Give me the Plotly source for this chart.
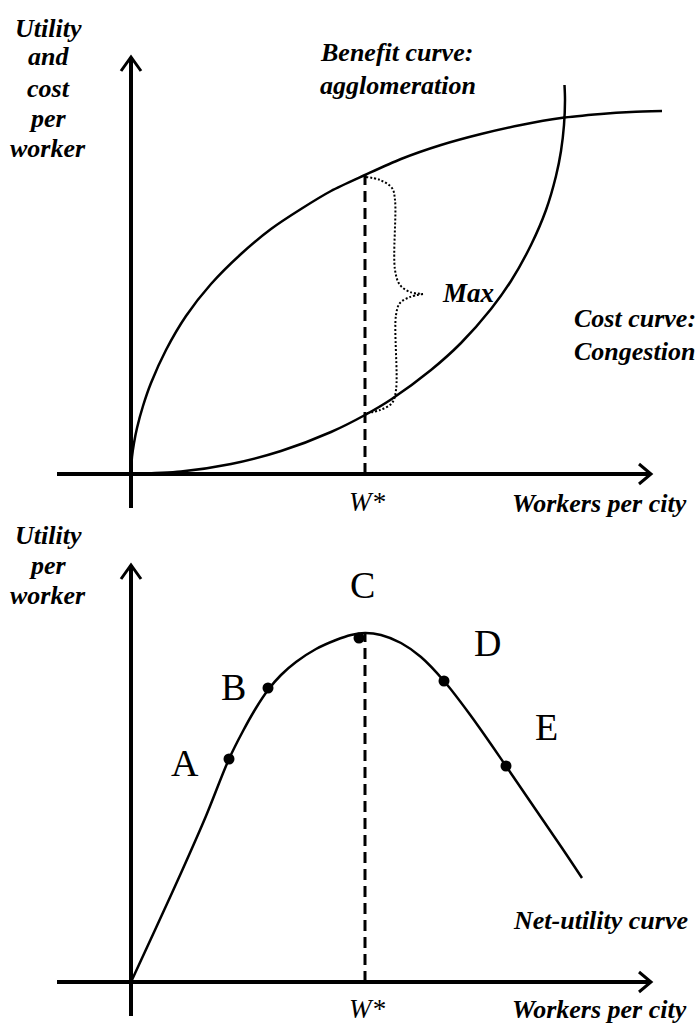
import plotly.graph_objects as go

# ---------------- data (units: pixels from each panel's origin) ----------------
W_STAR = 234

BENEFIT_X = [0, 1, 3, 6, 12, 20, 35, 55, 80, 110, 140, 170, 200, 234, 270, 310, 350, 390, 430, 470, 500, 531]
BENEFIT_Y = [0, 17, 31, 46, 68, 91, 124, 158, 190, 220, 245, 265, 283, 299, 315, 329, 340, 349, 356, 360, 362, 363]

COST_X = [0, 50, 100, 150, 200, 234, 260, 300, 330, 360, 380, 400, 415, 425, 430, 433, 434, 433.5]
COST_Y = [0, 2.5, 10, 23, 42, 59, 74.5, 104, 131, 165, 193, 229, 264, 298, 323, 349, 374, 389]

BRACE_UP_X = [235, 249, 261, 264, 264, 269, 279, 292]
BRACE_UP_Y = [297, 294, 286, 274, 204, 189, 182, 180]
BRACE_LO_X = [292, 279, 269, 265, 265, 261, 249, 236]
BRACE_LO_Y = [180, 177, 171, 159, 84, 71, 64, 61]

NET_X = [0, 24, 50, 75, 98, 112, 125, 137, 150, 165, 185, 205, 220, 234, 250, 270, 290, 313, 340, 375, 405, 431, 451]
NET_Y = [0, 52, 109, 166, 223, 251, 274, 292, 307, 320, 333, 342, 347, 349, 347, 339, 325, 301, 266, 216, 172, 134, 104]

POINT_LABELS = ["A", "B", "C", "D", "E"]
POINT_X = [98, 137, 228, 313, 375]
POINT_Y = [223, 294, 344, 301, 216]
LABEL_X = [54, 102, 231, 356, 415]
LABEL_Y = [219, 295, 397, 339, 255]

TOP_YLABEL = ["Utility", "and", "cost", "per", "worker"]
TOP_YLABEL_Y = [446, 418, 386, 356, 326]
BOT_YLABEL = ["Utility", "per", "worker"]
BOT_YLABEL_Y = [447, 417, 387]

AXIS_X = [-74, 520]
AXIS_Y = [-34, 417]
ARROW = 12
ARROW_W = 10

SERIF = "Liberation Serif"

fig = go.Figure()


def add_axes(xa, ya):
    fig.add_trace(go.Scatter(x=AXIS_X, y=[0, 0], mode="lines", xaxis=xa, yaxis=ya,
                             line=dict(color="black", width=4), hoverinfo="skip"))
    fig.add_trace(go.Scatter(x=[0, 0], y=AXIS_Y, mode="lines", xaxis=xa, yaxis=ya,
                             line=dict(color="black", width=4), hoverinfo="skip"))
    fig.add_trace(go.Scatter(x=[AXIS_X[1] - ARROW, AXIS_X[1], AXIS_X[1] - ARROW],
                             y=[ARROW_W, 0, -ARROW_W], mode="lines", xaxis=xa, yaxis=ya,
                             line=dict(color="black", width=3), hoverinfo="skip"))
    fig.add_trace(go.Scatter(x=[-ARROW_W, 0, ARROW_W],
                             y=[AXIS_Y[1] - ARROW - 2, AXIS_Y[1], AXIS_Y[1] - ARROW - 2], mode="lines",
                             xaxis=xa, yaxis=ya, line=dict(color="black", width=3), hoverinfo="skip"))


# ---------------- top panel ----------------
add_axes("x", "y")
fig.add_trace(go.Scatter(x=BENEFIT_X, y=BENEFIT_Y, mode="lines", xaxis="x", yaxis="y",
                         line=dict(color="black", width=2.5, shape="spline", smoothing=0.8)))
fig.add_trace(go.Scatter(x=COST_X, y=COST_Y, mode="lines", xaxis="x", yaxis="y",
                         line=dict(color="black", width=2.5, shape="spline", smoothing=0.8)))
fig.add_trace(go.Scatter(x=[W_STAR, W_STAR], y=[0, BENEFIT_Y[BENEFIT_X.index(W_STAR)]], mode="lines",
                         xaxis="x", yaxis="y", line=dict(color="black", width=3, dash="11px,6px")))
fig.add_trace(go.Scatter(x=BRACE_UP_X, y=BRACE_UP_Y, mode="lines", xaxis="x", yaxis="y",
                         line=dict(color="black", width=2, dash="2px,2px", shape="spline", smoothing=1)))
fig.add_trace(go.Scatter(x=BRACE_LO_X, y=BRACE_LO_Y, mode="lines", xaxis="x", yaxis="y",
                         line=dict(color="black", width=2, dash="2px,2px", shape="spline", smoothing=1)))

# ---------------- bottom panel ----------------
add_axes("x2", "y2")
fig.add_trace(go.Scatter(x=NET_X, y=NET_Y, mode="lines", xaxis="x2", yaxis="y2",
                         line=dict(color="black", width=2.5, shape="spline", smoothing=1)))
fig.add_trace(go.Scatter(x=[W_STAR, W_STAR], y=[0, max(NET_Y)], mode="lines", xaxis="x2", yaxis="y2",
                         line=dict(color="black", width=3, dash="11px,6px")))
fig.add_trace(go.Scatter(x=POINT_X, y=POINT_Y, mode="markers", xaxis="x2", yaxis="y2",
                         marker=dict(color="black", size=11)))

bi = dict(family=SERIF, size=26, color="black", weight="bold", style="italic")
it = dict(family=SERIF, size=27, color="black", style="italic")


def label(x, y, text, xr, yr, font, xanchor="center"):
    return dict(x=x, y=y, xref=xr, yref=yr, text=text, showarrow=False, font=font,
                xanchor=xanchor, yanchor="middle", align="left")


ann = []
for t, yy in zip(TOP_YLABEL, TOP_YLABEL_Y):
    ann.append(label(-83, yy, t, "x", "y", bi))
ann.append(label(187, 422, "Benefit curve:", "x", "y", bi, "left"))
ann.append(label(187, 389, "agglomeration", "x", "y", bi, "left"))
ann.append(label(309, 181, "Max", "x", "y",
                 dict(family=SERIF, size=27, color="black", style="italic", weight="bold"), "left"))
ann.append(label(441, 156, "Cost curve:", "x", "y", bi, "left"))
ann.append(label(441, 123, "Congestion", "x", "y", bi, "left"))
ann.append(label(236, -28, "W*", "x", "y", it))
ann.append(label(558, -29, "Workers per city", "x", "y", bi, "right"))

for t, yy in zip(BOT_YLABEL, BOT_YLABEL_Y):
    ann.append(label(-83, yy, t, "x2", "y2", bi))
ann.append(label(559, 62, "Net-utility curve", "x2", "y2", bi, "right"))
ann.append(label(236, -27, "W*", "x2", "y2", it))
ann.append(label(558, -27, "Workers per city", "x2", "y2", bi, "right"))
for lab, lx, ly in zip(POINT_LABELS, LABEL_X, LABEL_Y):
    ann.append(label(lx, ly, lab, "x2", "y2", dict(family=SERIF, size=38, color="black")))

ax_common = dict(visible=False, fixedrange=True)
fig.update_layout(
    width=695, height=1027,
    margin=dict(l=0, r=0, t=0, b=0),
    paper_bgcolor="white", plot_bgcolor="white",
    showlegend=False,
    xaxis=dict(domain=[0, 1], range=[-131, 564], anchor="y", **ax_common),
    yaxis=dict(domain=[519 / 1027, 1], range=[-34, 474], anchor="x", **ax_common),
    xaxis2=dict(domain=[0, 1], range=[-131, 564], anchor="y2", **ax_common),
    yaxis2=dict(domain=[11 / 1027, 519 / 1027], range=[-34, 474], anchor="x2", **ax_common),
    annotations=ann,
)

fig.write_html("out.html", config={"displayModeBar": False},
               post_script="document.body.style.margin='0';document.body.style.overflow='hidden';")
